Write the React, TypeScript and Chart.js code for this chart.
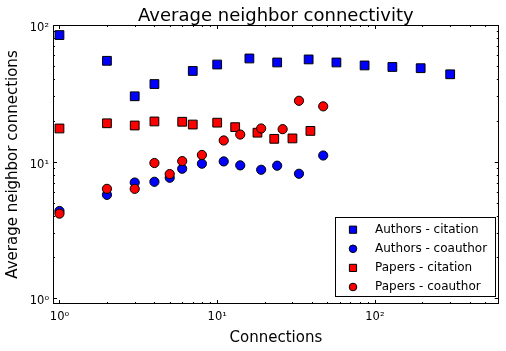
import React, { useEffect, useRef } from 'react';
import { Chart, registerables } from 'chart.js';

Chart.register(...registerables);

// ---- data ----
const authorsCitationX = [1, 2, 3, 4, 7, 10, 16, 24, 38, 57, 86, 129, 195, 300];
const authorsCitationY = [84.4, 54.7, 30.1, 37.0, 46.1, 51.4, 56.9, 53.2, 56.0, 53.2, 50.6, 49.3, 48.3, 43.6];

const authorsCoauthorX = [1, 2, 3, 4, 5, 6, 8, 11, 14, 19, 24, 33, 47];
const authorsCoauthorY = [4.36, 5.72, 7.04, 7.13, 7.63, 8.88, 9.67, 10.05, 9.4, 8.73, 9.35, 8.16, 11.1];

const papersCitationX = [1, 2, 3, 4, 6, 7, 10, 13, 18, 23, 30, 39];
const papersCitationY = [17.5, 19.1, 18.4, 19.7, 19.6, 18.7, 19.3, 17.9, 16.3, 14.7, 14.8, 16.8];

const papersCoauthorX = [1, 2, 3, 4, 5, 6, 8, 11, 14, 19, 26, 33, 47];
const papersCoauthorY = [4.17, 6.33, 6.33, 9.78, 8.12, 10.1, 11.2, 14.3, 15.8, 17.5, 17.3, 27.9, 25.4];

const seriesLabels = ['Authors - citation', 'Authors - coauthor', 'Papers - citation', 'Papers - coauthor'];

const xTickValues = [1, 10, 100];
const xTickLabels = ['10⁰', '10¹', '10²'];
const yTickValues = [1, 10, 100];
const yTickLabels = ['10⁰', '10¹', '10²'];

const X_MIN = 0.91;
const X_MAX = 610;
const Y_MIN = 0.91;
const Y_MAX = 100;

const FONT = '"DejaVu Sans", sans-serif';

function toPoints(xs: number[], ys: number[]) {
  return xs.map((x, i) => ({ x, y: ys[i] }));
}

function logTicks(min: number, max: number) {
  const out: number[] = [];
  const e0 = Math.floor(Math.log10(min));
  const e1 = Math.ceil(Math.log10(max));
  for (let e = e0; e <= e1; e++) {
    for (let m = 1; m <= 9; m++) {
      const v = m * Math.pow(10, e);
      if (v >= min && v <= max) out.push(v);
    }
  }
  return out;
}

const frameTicksPlugin = {
  id: 'frameTicks',
  beforeDatasetsDraw(chart: any) {
    const { ctx, chartArea, scales } = chart;
    const { left, right, top, bottom } = chartArea;
    ctx.save();
    ctx.strokeStyle = '#000';
    ctx.lineWidth = 1;
    const xs = scales.x;
    const ys = scales.y;
    ctx.beginPath();
    for (const v of logTicks(X_MIN, X_MAX)) {
      const len = xTickValues.includes(v) ? 4 : 2;
      const px = Math.round(xs.getPixelForValue(v)) + 0.5;
      ctx.moveTo(px, bottom);
      ctx.lineTo(px, bottom - len);
      ctx.moveTo(px, top);
      ctx.lineTo(px, top + len);
    }
    for (const v of logTicks(Y_MIN, Y_MAX)) {
      const len = yTickValues.includes(v) ? 4 : 2;
      const py = Math.round(ys.getPixelForValue(v)) + 0.5;
      ctx.moveTo(left, py);
      ctx.lineTo(left + len, py);
      ctx.moveTo(right, py);
      ctx.lineTo(right - len, py);
    }
    ctx.stroke();
    ctx.strokeRect(Math.round(left) + 0.5, Math.round(top) + 0.5, Math.round(right - left) - 1, Math.round(bottom - top) - 1);
    ctx.restore();
  },
};

const insetLegendPlugin = {
  id: 'insetLegend',
  afterDraw(chart: any) {
    const { ctx, chartArea } = chart;
    const datasets = chart.data.datasets;
    ctx.save();
    ctx.font = `12px ${FONT}`;
    const textW = Math.max(...datasets.map((d: any) => ctx.measureText(d.label).width));
    const markerOffset = 18;
    const textOffset = 40;
    const rowH = 19.1;
    const w = Math.round(textOffset + textW + 8);
    const h = 79;
    const right = Math.round(chartArea.right) - 4;
    const bottom = Math.round(chartArea.bottom) - 8;
    const left = right - w;
    const top = bottom - h;
    ctx.fillStyle = '#fff';
    ctx.fillRect(left, top, w, h);
    ctx.strokeStyle = '#000';
    ctx.lineWidth = 1;
    ctx.strokeRect(left + 0.5, top + 0.5, w, h);
    datasets.forEach((d: any, i: number) => {
      const cy = top + 12.7 + i * rowH;
      const cx = left + markerOffset;
      ctx.fillStyle = d.backgroundColor;
      ctx.strokeStyle = '#000';
      ctx.lineWidth = 1;
      ctx.beginPath();
      if (d.pointStyle === 'rect') {
        const s = 3.6;
        ctx.rect(cx - s, cy - s, 2 * s, 2 * s);
      } else {
        ctx.arc(cx, cy, 3.8, 0, Math.PI * 2);
      }
      ctx.fill();
      ctx.stroke();
      ctx.fillStyle = '#000';
      ctx.textBaseline = 'middle';
      ctx.textAlign = 'left';
      ctx.fillText(d.label, left + textOffset, cy);
    });
    ctx.restore();
  },
};

export default function App() {
  const canvasRef = useRef<HTMLCanvasElement | null>(null);

  useEffect(() => {
    if (!canvasRef.current) return;
    const mk = (label: string, xs: number[], ys: number[], color: string, style: string, order: number) => ({
      label,
      data: toPoints(xs, ys),
      backgroundColor: color,
      borderColor: '#000',
      borderWidth: 1,
      pointStyle: style,
      pointRadius: style === 'rect' ? 6.2 : 4.6,
      pointHoverRadius: style === 'rect' ? 6.2 : 4.6,
      showLine: false,
      order,
    });
    const chart = new Chart(canvasRef.current, {
      type: 'scatter',
      data: {
        datasets: [
          mk(seriesLabels[0], authorsCitationX, authorsCitationY, '#0000ff', 'rect', 3),
          mk(seriesLabels[1], authorsCoauthorX, authorsCoauthorY, '#0000ff', 'circle', 2),
          mk(seriesLabels[2], papersCitationX, papersCitationY, '#ff0000', 'rect', 1),
          mk(seriesLabels[3], papersCoauthorX, papersCoauthorY, '#ff0000', 'circle', 0),
        ] as any,
      },
      options: {
        animation: false,
        responsive: false,
        devicePixelRatio: 1,
        layout: { padding: { left: 0, right: 7, top: 0, bottom: 0 } },
        plugins: {
          legend: { display: false },
          tooltip: { enabled: false },
          title: {
            display: true,
            text: 'Average neighbor connectivity',
            fullSize: false,
            color: '#000',
            font: { family: FONT, size: 18, weight: 'normal', lineHeight: 1 },
            padding: { top: 7, bottom: 0 },
          },
        },
        scales: {
          x: {
            type: 'logarithmic',
            position: 'bottom',
            min: X_MIN,
            max: X_MAX,
            grid: { display: false, drawTicks: false },
            border: { display: false },
            ticks: {
              autoSkip: false,
              maxRotation: 0,
              padding: 6,
              color: '#000',
              font: { family: FONT, size: 11.5 },
              callback: (v: any) => {
                const i = xTickValues.indexOf(Number(v));
                return i >= 0 ? xTickLabels[i] : '';
              },
            },
            afterBuildTicks: (s: any) => {
              s.ticks = xTickValues.map((v) => ({ value: v }));
            },
            afterFit: (s: any) => {
              s.height = 47;
            },
            title: {
              display: true,
              text: 'Connections',
              color: '#000',
              font: { family: FONT, size: 15 },
              padding: { top: 0, bottom: 4 },
            },
          },
          y: {
            type: 'logarithmic',
            position: 'left',
            min: Y_MIN,
            max: Y_MAX,
            grid: { display: false, drawTicks: false },
            border: { display: false },
            ticks: {
              autoSkip: false,
              padding: 4,
              labelOffset: 3,
              color: '#000',
              font: { family: FONT, size: 11.5 },
              callback: (v: any) => {
                const i = yTickValues.indexOf(Number(v));
                return i >= 0 ? yTickLabels[i] : '';
              },
            },
            afterBuildTicks: (s: any) => {
              s.ticks = yTickValues.map((v) => ({ value: v }));
            },
            afterFit: (s: any) => {
              s.width = 53;
            },
            title: {
              display: true,
              text: 'Average neighbor connections',
              color: '#000',
              font: { family: FONT, size: 15 },
              padding: { top: 4.5, bottom: 0 },
            },
          },
        },
      } as any,
      plugins: [frameTicksPlugin, insetLegendPlugin],
    });
    return () => chart.destroy();
  }, []);

  return (
    <div style={{ position: 'fixed', left: 0, top: 0, width: 506, height: 351, background: '#fff' }}>
      <canvas ref={canvasRef} width={506} height={351} style={{ display: 'block' }} />
    </div>
  );
}
